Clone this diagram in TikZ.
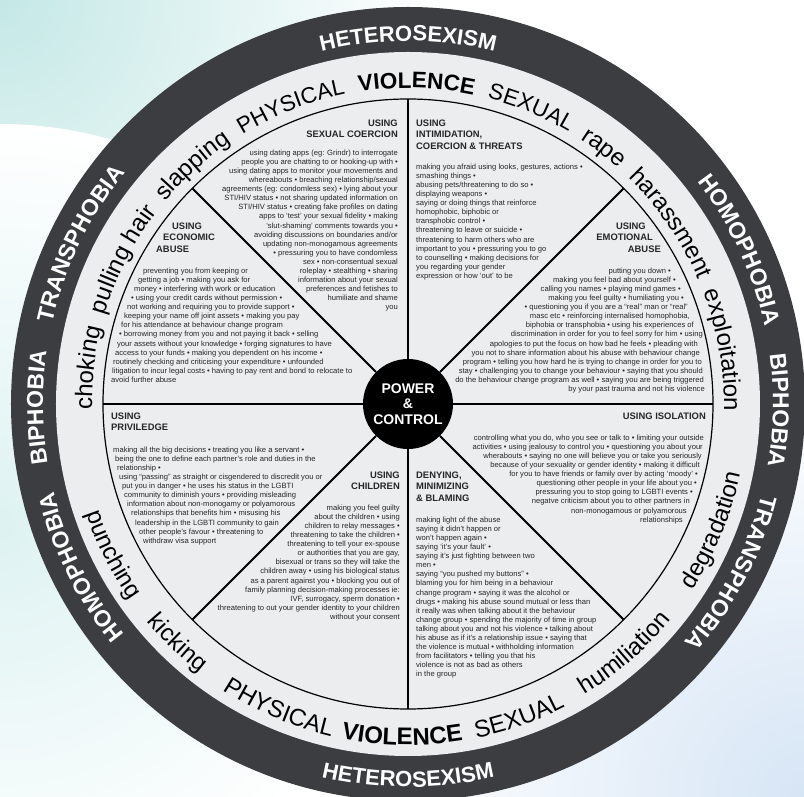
\documentclass[tikz,border=0pt]{standalone}
\usepackage{fontspec}
\setmainfont{Liberation Sans}
\usetikzlibrary{decorations.text}
\definecolor{ringdark}{RGB}{60,61,65}
\definecolor{ringlight}{RGB}{236,237,239}
\definecolor{txt}{RGB}{38,38,38}
\definecolor{bgteal}{RGB}{196,232,230}
\definecolor{bgcyan}{RGB}{222,242,242}
\definecolor{bgblue}{RGB}{214,229,245}
\newcommand\ringR{\fontsize{22.5pt}{24pt}\selectfont}
\newcommand\ringL{\fontsize{24pt}{26pt}\selectfont}
\newcommand\ringB{\fontsize{22.5pt}{24pt}\selectfont\bfseries}
\newcommand\ringBB{\fontsize{24pt}{26pt}\selectfont\bfseries}
\newcommand\outB{\fontsize{22pt}{24pt}\selectfont\bfseries}
\newcommand\outS{\fontsize{23pt}{25pt}\selectfont\bfseries}
\newcommand\padd[1]{\rule{#1pt}{0pt}}
\newcommand\CWtext[4]{\path[decorate,decoration={text along path,text align=center,text color=#4,text={#3}}] ({#1+40}:#2pt) arc[start angle={#1+40},end angle={#1-40},radius=#2pt];}
\newcommand\CCWtext[4]{\path[decorate,decoration={text along path,text align=center,text color=#4,text={#3}}] ({#1-40}:#2pt) arc[start angle={#1-40},end angle={#1+40},radius=#2pt];}
\begin{document}
\begin{tikzpicture}[x=1pt,y=1pt,
  body/.style={inner sep=0pt, font=\fontsize{7.6}{9.1}\selectfont, text=txt},
  head/.style={inner sep=0pt, font=\fontsize{9.4}{11.4}\selectfont\bfseries, text=txt},
  hub/.style={circle, fill=black, minimum size=90pt, inner sep=0pt, text=white, align=center, font=\fontsize{14}{15.5}\selectfont\bfseries},
  divider/.style={line width=2pt, black}]
\useasboundingbox (-408,-393) rectangle (396,404);
\fill[white] (-408,-393) rectangle (396,404);
\begin{scope}
\clip (-408,-393) rectangle (396,404);
\shade[inner color=bgteal, outer color=white] (-408,404) circle[radius=440pt];
\shade[inner color=bgcyan, outer color=white] (-408,-120) circle[radius=400pt];
\shade[inner color=bgblue, outer color=white] (396,-393) circle[radius=420pt];
\end{scope}
% rings
\fill[ringdark] (0,0) circle[radius=397pt];
\fill[ringlight] (0,0) circle[radius=352pt];
\draw[line width=1.2pt] (0,0) circle[radius=305pt];
% hub and dividers
\node[hub] (hub) at (0,0) {POWER\\\&\\CONTROL};
\foreach \a in {0,45,...,315} \coordinate (rim\a) at (\a:305pt);
\foreach \a in {0,45,...,315} \draw[divider] (hub.\a) -- (rim\a);
% outer ring text
\CWtext{90}{363}{|\outB|HETEROSEXISM}{white}
\CCWtext{270}{383}{|\outB|HETEROSEXISM}{white}
\CWtext{206.45}{365}{|\outS|HOMOPHOBIA}{white}
\CWtext{180.5}{365}{|\outS|BIPHOBIA}{white}
\CWtext{153.95}{365}{|\outS|TRANSPHOBIA}{white}
\CWtext{24.95}{365}{|\outS|HOMOPHOBIA}{white}
\CWtext{-1}{365}{|\outS|BIPHOBIA}{white}
\CWtext{-27.55}{365}{|\outS|TRANSPHOBIA}{white}
% light ring text, upper
\CWtext{173.55}{316}{|\ringL|choking}{black}
\CWtext{153.15}{316}{|\ringL|pulling hair}{black}
\CWtext{132.15}{316}{|\ringL|slapping}{black}
\CWtext{111.5}{316}{|\ringR|PHYSICAL}{black}
\CWtext{88.45}{316}{|\ringB|VIOLENCE}{black}
\CWtext{67.45}{316}{|\ringR|SEXUAL}{black}
\CWtext{52.6}{316}{|\ringL|rape}{black}
\CWtext{34.5}{316}{|\ringL|harassment}{black}
\CWtext{9.75}{316}{|\ringL|exploitation}{black}
% light ring text, lower
\CCWtext{207}{340}{|\ringL|punching}{black}
\CCWtext{226}{340}{|\ringL|kicking}{black}
\CCWtext{247}{341}{|\ringL|PHYSICAL}{black}
\CCWtext{269}{341}{|\ringBB|VIOLENCE}{black}
\CCWtext{289.5}{341}{|\ringL|SEXUAL}{black}
\CCWtext{311}{340}{|\ringL|humiliation}{black}
\CCWtext{337.5}{340}{|\ringL|degradation}{black}
% SEXUAL COERCION
\node[head, align=right, anchor=north east] (hsex) at (-10,284.5) {USING\\SEXUAL COERCION};
\node[body, align=right, anchor=north east] (tsex) at (-10,254.5) {using dating apps (eg: Grindr) to interrogate\\
people you are chatting to or hooking-up with •\\
using dating apps to monitor your movements and\\
whereabouts • breaching relationship/sexual\\
agreements (eg: condomless sex) • lying about your\\
STI/HIV status • not sharing updated information on\\
STI/HIV status • creating fake profiles on dating\\
apps to ‘test’ your sexual fidelity • making\\
‘slut-shaming’ comments towards you •\\
avoiding discussions on boundaries and/or\\
updating non-monogamous agreements\\
• pressuring you to have condomless\\
sex • non-consentual sexual\\
roleplay • stealthing • sharing\\
information about your sexual\\
preferences and fetishes to\\
humiliate and shame\\
you};
% INTIMIDATION
\node[head, align=left, anchor=north west] (hint) at (8,284.5) {USING\\INTIMIDATION,\\COERCION \& THREATS};
\node[body, align=left, anchor=north west] (tint) at (8,240.5) {making you afraid using looks, gestures, actions •\\
smashing things •\\
abusing pets/threatening to do so •\\
displaying weapons •\\
saying or doing things that reinforce\\
homophobic, biphobic or\\
transphobic control •\\
threatening to leave or suicide •\\
threatening to harm others who are\\
important to you • pressuring you to go\\
to counselling • making decisions for\\
you regarding your gender\\
expression or how ‘out’ to be};
% ECONOMIC
\node[head, align=left, anchor=north west] (heco) at (-252,181.5) {\padd{16}USING\\\padd{7}ECONOMIC\\ABUSE};
\node[body, align=left, anchor=north west] (teco) at (-297,136.5) {\padd{32}preventing you from keeping or\\
\padd{27}getting a job • making you ask for\\
\padd{23}money • interfering with work or education\\
\padd{20}• using your credit cards without permission •\\
\padd{16}not working and requiring you to provide support •\\
\padd{13}keeping your name off joint assets • making you pay\\
\padd{10}for his attendance at behaviour change program\\
\padd{8}• borrowing money from you and not paying it back • selling\\
\padd{6}your assets without your knowledge • forging signatures to have\\
\padd{4}access to your funds • making you dependent on his income •\\
\padd{2}routinely checking and criticising your expenditure • unfounded\\
\padd{1}litigation to incur legal costs • having to pay rent and bond to relocate to\\
avoid further abuse};
% EMOTIONAL
\node[head, align=right, anchor=north east] (hemo) at (253,181.5) {USING\padd{15}\\EMOTIONAL\padd{8}\\ABUSE};
\node[body, align=right, anchor=north east] (temo) at (297,136.5) {putting you down •\padd{34}\\
making you feel bad about yourself •\padd{29}\\
calling you names • playing mind games •\padd{24}\\
making you feel guilty • humiliating you •\padd{21}\\
• questioning you if you are a “real” man or “real”\padd{17}\\
masc etc • reinforcing internalised homophobia,\padd{15}\\
biphobia or transphobia • using his experiences of\padd{11}\\
discrimination in order for you to feel sorry for him • using\padd{2}\\
apologies to put the focus on how bad he feels • pleading with\padd{7}\\
you not to share information about his abuse with behaviour change\padd{5}\\
program • telling you how hard he is trying to change in order for you to\padd{3}\\
stay • challenging you to change your behaviour • saying that you should\padd{2}\\
do the behaviour change program as well • saying you are being triggered\padd{1}\\
by your past trauma and not his violence};
% PRIVILEDGE
\node[head, align=left, anchor=north west] (hpri) at (-297,-8.5) {USING\\PRIVILEDGE};
\node[body, align=left, anchor=north west] (tpri) at (-295,-42.5) {making all the big decisions • treating you like a servant •\\
\padd{2}being the one to define each partner’s role and duties in the\\
\padd{4}relationship •\\
\padd{6}using “passing” as straight or cisgendered to discredit you or\\
\padd{9}put you in danger • he uses his status in the LGBTI\\
\padd{11}community to diminish yours • providing misleading\\
\padd{14}information about non-monogamy or polyamorous\\
\padd{18}relationships that benefits him • misusing his\\
\padd{22}leadership in the LGBTI community to gain\\
\padd{26}other people’s favour • threatening to\\
\padd{30}withdraw visa support};
% CHILDREN
\node[head, align=right, anchor=north east] (hchi) at (-8,-67.5) {USING\\CHILDREN};
\node[body, align=right, anchor=north east] (tchi) at (-8,-100.5) {making you feel guilty\\
about the children • using\\
children to relay messages •\\
threatening to take the children •\\
threatening to tell your ex-spouse\\
or authorities that you are gay,\\
bisexual or trans so they will take the\\
children away • using his biological status\\
as a parent against you • blocking you out of\\
family planning decision-making processes ie:\\
IVF, surrogacy, sperm donation •\\
threatening to out your gender identity to your children\\
without your consent};
% ISOLATION
\node[head, align=right, anchor=north east] (hiso) at (298,-8.5) {USING ISOLATION};
\node[body, align=right, anchor=north east] (tiso) at (296,-30.5) {controlling what you do, who you see or talk to • limiting your outside\\
activities • using jealousy to control you • questioning you about your\padd{1}\\
wherabouts • saying no one will believe you or take you seriously\padd{2}\\
because of your sexuality or gender identity • making it difficult\padd{4}\\
for you to have friends or family over by acting ‘moody’ •\padd{6}\\
questioning other people in your life about you •\padd{7}\\
pressuring you to stop going to LGBTI events •\padd{11}\\
negatve criticism about you to other partners in\padd{14}\\
non-monogamous or polyamorous\padd{17}\\
relationships\padd{21}};
% DENYING
\node[head, align=left, anchor=north west] (hden) at (8,-67.5) {DENYING,\\MINIMIZING\\\& BLAMING};
\node[body, align=left, anchor=north west] (tden) at (8,-112.5) {making light of the abuse\\
saying it didn’t happen or\\
won’t happen again •\\
saying ‘it’s your fault’ •\\
saying it’s just fighting between two\\
men •\\
saying “you pushed my buttons” •\\
blaming you for him being in a behaviour\\
change program • saying it was the alcohol or\\
drugs • making his abuse sound mutual or less than\\
it really was when talking about it the behaviour\\
change group • spending the majority of time in group\\
talking about you and not his violence • talking about\\
his abuse as if it’s a relationship issue • saying that\\
the violence is mutual • withholding information\\
from facilitators • telling you that his\\
violence is not as bad as others\\
in the group};
\end{tikzpicture}
\end{document}
